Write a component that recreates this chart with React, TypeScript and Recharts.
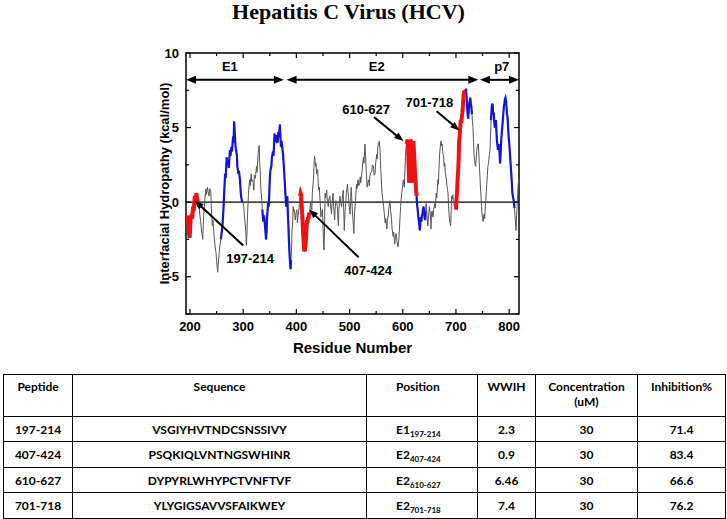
import React from 'react';
import { ComposedChart, Line, XAxis, YAxis, ReferenceLine, ReferenceDot, ReferenceArea } from 'recharts';

// ---------- Hydropathy profile, split by colour segment: [residue, kcal/mol] ----------
const red1: [number, number][] = [
  [193, -1.1], [195, -1.5], [196, -0.9], [197, -1.7], [199, -2.4], [200, -2.0], [201, -1.2], [203, -0.8],
  [204, -1.1], [206, -0.3], [207, -0.6], [209, 0.4], [210, 0.1], [212, 0.6], [213, 0.3], [215, 0.0], [217, -0.3],
];
const gray1: [number, number][] = [
  [217, -0.3], [219, -1.0], [220, -1.3], [222, -2.0], [224, -2.5], [225, -1.5], [226, -0.8], [228, 0.2],
  [230, 0.9], [231, 0.5], [233, 1.0], [234, 0.7], [236, 0.4], [237, 0.9], [239, 0.8], [240, -0.2],
  [242, -1.6], [243, -1.2], [245, -2.1], [247, -2.9], [249, -3.4], [250, -3.9], [252, -4.7], [253, -4.2],
  [255, -3.4], [256, -3.0], [258, -2.5],
];
const blue1: [number, number][] = [
  [258, -2.5], [260, -1.9], [261, -1.6], [263, -0.4], [264, 0.4], [266, 1.9], [267, 1.6], [269, 3.0],
  [270, 2.6], [272, 2.8], [273, 2.3], [275, 3.5], [276, 3.1], [278, 3.7], [279, 3.4], [281, 4.4],
  [282, 4.0], [283, 5.4], [284, 4.8], [285, 4.1], [286, 3.6], [288, 3.2], [289, 2.4], [291, 1.9],
  [292, 2.1], [294, 1.5], [295, 0.9], [296, 0.4], [298, 0.0],
];
const gray2: [number, number][] = [
  [298, 0.0], [299, 0.1], [301, -0.3], [303, -1.2], [305, -2.0], [306, -2.9], [307, -2.2], [308, -1.0],
  [310, 0.6], [312, 1.5], [313, 1.1], [315, 1.9], [316, 1.4], [318, 1.5], [320, 0.8], [321, 1.8],
  [323, 1.6], [325, 2.4], [326, 2.0], [328, 3.2], [330, 3.8], [331, 2.6], [332, 2.1], [333, 1.0],
  [335, 0.1], [336, -0.5],
];
const blue2: [number, number][] = [
  [336, -0.5], [337, -1.0], [338, -1.3], [339, -0.9], [340, -1.1], [341, -1.6], [343, -2.5], [344, -2.0],
  [345, -1.0], [347, 0.0], [348, -0.3], [350, 1.5], [351, 2.1], [353, 2.4], [354, 3.0], [356, 3.4],
  [357, 3.1], [359, 4.6], [360, 4.2], [362, 4.1], [363, 4.5], [365, 4.0], [366, 4.7], [367, 4.3],
  [369, 5.2], [370, 4.4], [371, 3.7], [372, 4.1], [373, 3.8], [375, 3.2], [376, 2.6], [378, 1.5],
  [379, 0.8], [380, 0.1], [381, -0.3], [383, 0.4], [384, -0.8], [385, -1.6], [386, -2.6], [387, -3.4],
  [388, -4.0], [389, -4.5], [390, -3.9],
];
const gray3: [number, number][] = [
  [390, -3.9], [391, -3.0], [392, -1.8], [393, -1.4], [394, -0.3], [395, -0.6], [396, -0.5], [397, -0.9],
  [398, -1.2], [399, -0.8], [401, -0.5], [402, -1.4], [403, -0.9], [404, -0.8], [406, 0.0], [407, 0.4],
];
const red2: [number, number][] = [
  [407, 0.4], [408, 0.6], [409, 0.5], [410, -0.2], [411, -0.8], [412, -1.6], [413, -2.3], [414, -2.9],
  [415, -3.3], [416, -3.2], [417, -2.9], [418, -2.5], [419, -1.8], [420, -1.2], [421, -1.4], [422, -1.0],
  [423, -1.1], [424, -0.7],
];
const gray4: [number, number][] = [
  [424, -0.7], [425, -0.8], [426, -0.2], [427, 0.0], [428, -0.4], [429, -0.5], [430, 0.6], [432, 1.5],
  [433, 2.3], [434, 3.1], [435, 2.8], [436, 2.4], [437, 2.6], [438, 1.9], [439, 2.2], [440, 2.1],
  [441, 1.3], [442, 0.8], [443, 1.0], [444, 0.4], [445, -0.2], [446, -1.0], [447, -0.7], [449, -0.5],
  [450, -1.6], [451, -2.6], [452, -3.2], [453, -1.5], [454, 0.6], [455, 0.3], [457, 0.8], [458, 0.2],
  [460, -0.3], [461, 0.2], [463, 0.4], [464, -0.2], [466, -0.8], [467, -0.1], [469, 0.6], [470, -0.3],
  [472, -1.2], [473, -0.4], [474, 0.1], [476, -0.1], [477, -0.3], [478, -1.0], [479, -1.6], [480, -0.5],
  [482, 0.4], [483, 0.1], [485, -0.3], [486, 0.2], [488, 0.8], [489, -0.6], [490, -1.9], [491, -1.0],
  [493, 0.1], [494, 0.6], [496, 1.2], [497, 0.7], [498, 0.4], [499, -0.2], [501, -0.8], [502, 0.1],
  [503, 1.0], [504, 0.3], [505, -0.4], [506, -1.0], [507, -1.5], [508, -2.1], [509, -1.0], [511, 0.1],
  [512, 0.6], [513, 1.2], [514, 0.9], [516, 1.5], [517, 1.1], [519, 1.2], [520, 1.7], [521, 1.3],
  [523, 1.9], [524, 2.3], [526, 3.0], [527, 2.6], [529, 3.9], [530, 3.1], [531, 2.4], [532, 1.7],
  [533, 1.0], [534, 1.3], [536, 1.5], [537, 1.1], [538, 1.7], [540, 2.0], [542, 2.1], [543, 2.5],
  [545, 2.4], [546, 1.8], [548, 1.9], [549, 2.6], [551, 3.2], [552, 2.9], [553, 3.7], [555, 4.0],
  [556, 4.1], [557, 3.6], [558, 2.8], [559, 1.9], [561, 0.6], [562, 0.3], [564, -0.3], [565, -0.7],
  [567, -1.4], [568, -1.1], [570, -1.8], [571, -1.3], [573, -0.8], [574, -0.4], [576, 0.1], [577, -0.5],
  [579, -1.2], [580, -1.8], [582, -2.3], [583, -2.0], [585, -2.8], [586, -2.3], [588, -2.1], [589, -2.6],
  [591, -3.0], [592, -2.7], [593, -2.3], [595, -0.9], [596, -0.3], [597, 0.2], [598, 0.6], [600, 1.2],
  [601, 1.5], [602, 1.2], [603, 1.0], [604, 2.1], [605, 3.0], [606, 3.6], [607, 3.9],
];
const red3: [number, number][] = [
  [607, 3.9], [608, 4.0], [609, 4.2], [610, 3.6], [611, 2.4], [612, 1.3], [613, 4.1], [614, 4.0],
  [615, 4.2], [616, 3.8], [617, 3.5], [618, 1.3], [619, 2.9], [620, 4.1], [621, 3.4], [622, 2.8],
  [623, 2.0], [624, 1.5], [625, 0.8], [626, 0.4],
];
const blue3: [number, number][] = [
  [626, 0.4], [627, -0.2], [628, -0.5], [629, -0.9], [630, -1.2], [631, -1.5], [632, -1.9], [633, -1.4],
  [634, -1.0], [635, -1.3], [636, -0.9], [637, -0.8], [638, -0.5], [639, -0.3], [640, -0.6], [641, -1.0],
  [642, -1.2], [643, -0.6],
];
const gray5: [number, number][] = [
  [643, -0.6], [644, -0.1], [645, -0.6], [646, -1.2], [647, -1.6], [648, -1.3], [649, -0.7], [650, -0.3],
  [651, -0.5], [652, -1.0], [653, -1.8], [654, -0.8], [655, -0.6], [657, -1.0], [658, -0.5], [660, -0.1],
  [661, -0.4], [663, 0.6], [664, 0.3], [666, 1.5], [667, 1.2], [668, 2.2], [669, 3.1], [670, 3.5],
  [671, 3.9], [672, 4.1], [673, 3.8], [674, 3.9], [675, 3.4], [676, 3.2], [677, 2.9], [678, 2.4],
  [679, 2.6], [680, 2.0], [682, 1.5], [683, 1.1], [684, 0.9], [685, 0.6], [686, -0.2], [687, -0.8],
  [688, -1.2], [689, -1.4], [690, -1.6], [691, -0.5], [692, 0.4], [693, 0.2], [694, 0.5], [695, 0.1],
  [696, -0.1], [697, -0.3], [698, -0.2], [699, -0.4], [700, -0.5],
];
const red4: [number, number][] = [
  [700, -0.5], [701, 0.1], [702, 0.7], [703, 1.5], [704, 2.0], [705, 2.8], [706, 4.1], [707, 4.4],
  [708, 5.0], [709, 5.5], [710, 5.3], [711, 5.7], [712, 6.0], [713, 6.4], [714, 7.0], [715, 7.3], [716, 7.5],
];
const blue4: [number, number][] = [
  [716, 7.5], [717, 7.4], [718, 7.5], [719, 7.6], [720, 7.0], [721, 6.4], [722, 5.9], [723, 5.6],
  [724, 6.1], [725, 6.6], [726, 6.8], [727, 7.0], [728, 6.6], [729, 6.4], [730, 5.9],
];
const gray6: [number, number][] = [
  [730, 5.9], [731, 5.4], [732, 5.0], [733, 4.0], [734, 3.2], [735, 2.8], [736, 2.5], [737, 2.4],
  [738, 2.9], [739, 3.4], [740, 3.7], [741, 3.9], [742, 3.9], [743, 3.3], [744, 2.4], [745, 1.8],
  [746, 1.0], [747, 0.5], [748, -0.3], [749, -0.8], [750, -1.1], [751, -1.3], [752, -1.0], [753, -0.8],
  [754, -1.1], [755, -0.4], [756, 0.0], [757, 0.7], [758, 1.2], [759, 1.8], [760, 2.4], [761, 2.6],
  [762, 2.9], [763, 3.2], [764, 3.5], [765, 4.5], [766, 5.5],
];
const blue5: [number, number][] = [
  [766, 5.5], [767, 6.2], [768, 6.6], [769, 6.5], [770, 5.9], [771, 6.0], [772, 5.4], [773, 5.0],
  [774, 5.3], [775, 5.5], [776, 4.8], [777, 4.1], [778, 3.8], [779, 3.5], [780, 3.7], [781, 3.9],
  [782, 3.2], [783, 2.6], [784, 3.3], [785, 4.1], [786, 4.6], [787, 5.0], [788, 5.5], [789, 5.9],
  [790, 6.4], [791, 6.6], [792, 6.9], [793, 7.0], [794, 6.8], [795, 6.4], [796, 5.9], [797, 5.7],
  [798, 5.0], [799, 4.4], [800, 4.0], [801, 3.5], [802, 3.0], [803, 2.4], [804, 1.9], [805, 1.3],
  [806, 0.6], [807, 0.4], [808, 0.2], [809, 0.0], [810, -0.4],
];
const gray7: [number, number][] = [
  [810, -0.4], [811, -0.9], [812, -1.5], [813, -1.9], [814, -0.9], [815, -0.3], [816, 0.6], [817, 1.2], [818, 1.5],
];

const segments: { pts: [number, number][]; kind: 'gray' | 'blue' | 'red' }[] = [
  { pts: red1, kind: 'red' }, { pts: gray1, kind: 'gray' }, { pts: blue1, kind: 'blue' },
  { pts: gray2, kind: 'gray' }, { pts: blue2, kind: 'blue' }, { pts: gray3, kind: 'gray' },
  { pts: red2, kind: 'red' }, { pts: gray4, kind: 'gray' }, { pts: red3, kind: 'red' },
  { pts: blue3, kind: 'blue' }, { pts: gray5, kind: 'gray' }, { pts: red4, kind: 'red' },
  { pts: blue4, kind: 'blue' }, { pts: gray6, kind: 'gray' }, { pts: blue5, kind: 'blue' },
  { pts: gray7, kind: 'gray' },
];

// ---------- Axes ----------
const xDomain = [192.5, 818.5];
const yDomain = [-7.5, 10];
const xTicks = [200, 250, 300, 350, 400, 450, 500, 550, 600, 650, 700, 750, 800];
const yTicks = [-7.5, -5, -2.5, 0, 2.5, 5, 7.5, 10];

// ---------- Annotations ----------
const regionNames = ['E1', 'E2', 'p7'];
const regionStart = [192.5, 381.5, 745];
const regionEnd = [376.5, 742, 818.5];
const regionLabelX = [275, 551, 786];
const regionArrowY = 8.2;
const regionLabelY = 9.1;

const calloutNames = ['197-214', '407-424', '610-627', '701-718'];
const calloutTail: [number, number][] = [[300, -2.9], [517, -3.7], [546, 5.7], [663.7, 6.1]];
const calloutHead: [number, number][] = [[209, 0.1], [424, -0.5], [601, 4.1], [706.3, 4.8]];
const calloutText: [number, number][] = [[313, -3.8], [535, -4.6], [531, 6.2], [650, 6.7]];

// ---------- Table ----------
const peptideIds = ['197-214', '407-424', '610-627', '701-718'];
const sequences = ['VSGIYHVTNDCSNSSIVY', 'PSQKIQLVNTNGSWHINR', 'DYPYRLWHYPCTVNFTVF', 'YLYGIGSAVVSFAIKWEY'];
const domains = ['E1', 'E2', 'E2', 'E2'];
const wwih = ['2.3', '0.9', '6.46', '7.4'];
const concentrations = ['30', '30', '30', '30'];
const inhibitions = ['71.4', '83.4', '66.6', '76.2'];

// build chart rows
const rowMap = new Map<number, any>();
segments.forEach((s) => {
  s.pts.forEach(([r, v]) => {
    const row = rowMap.get(r) || { r, gray: v, blue: null, red: null };
    row.gray = v;
    if (s.kind !== 'gray') row[s.kind] = v;
    rowMap.set(r, row);
  });
});
const data = Array.from(rowMap.values()).sort((a, b) => a.r - b.r);

const FONT = '"Liberation Sans", Arial, sans-serif';

// layout of the plotting box
const M = { top: 53, right: 208, bottom: 160, left: 146 };
const X_AXIS_H = 45;
const Y_AXIS_W = 40;
const PLOT_W = 727 - M.left - M.right - Y_AXIS_W;
const PLOT_H = 519 - M.top - M.bottom - X_AXIS_H;

const BottomTick = (p: any) => {
  const major = p.payload.value % 100 === 0;
  const len = major ? 5 : 3;
  return (
    <g>
      <line x1={p.x} x2={p.x} y1={p.y} y2={p.y - len} stroke="#000" strokeWidth={1.2} />
      <line x1={p.x} x2={p.x} y1={p.y - PLOT_H} y2={p.y - PLOT_H + len} stroke="#000" strokeWidth={1.2} />
      {major && (
        <text x={p.x} y={p.y + 17} textAnchor="middle" fontSize={13} fontWeight="bold" fontFamily={FONT} fill="#000">
          {p.payload.value}
        </text>
      )}
    </g>
  );
};
const LeftTick = (p: any) => {
  const major = p.payload.value % 5 === 0;
  const len = major ? 5 : 3;
  return (
    <g>
      <line x1={p.x} x2={p.x + len} y1={p.y} y2={p.y} stroke="#000" strokeWidth={1.2} />
      <line x1={p.x + PLOT_W} x2={p.x + PLOT_W - len} y1={p.y} y2={p.y} stroke="#000" strokeWidth={1.2} />
      {major && (
        <text x={p.x - 7} y={p.y + 4.5} textAnchor="end" fontSize={13} fontWeight="bold" fontFamily={FONT} fill="#000">
          {p.payload.value}
        </text>
      )}
    </g>
  );
};

const DoubleArrow = (p: any) => {
  const { x1, y1, x2, y2 } = p;
  const hl = 10, hw = 4;
  return (
    <g>
      <line x1={x1 + hl - 1} y1={y1} x2={x2 - hl + 1} y2={y2} stroke="#000" strokeWidth={2} />
      <polygon points={`${x1},${y1} ${x1 + hl},${y1 - hw} ${x1 + hl},${y1 + hw}`} fill="#000" />
      <polygon points={`${x2},${y2} ${x2 - hl},${y2 - hw} ${x2 - hl},${y2 + hw}`} fill="#000" />
    </g>
  );
};

const SingleArrow = (p: any) => {
  const { x1, y1, x2, y2 } = p;
  const dx = x2 - x1, dy = y2 - y1;
  const len = Math.sqrt(dx * dx + dy * dy);
  const ux = dx / len, uy = dy / len;
  const hl = 9, hw = 3.5;
  const bx = x2 - ux * hl, by = y2 - uy * hl;
  return (
    <g>
      <line x1={x1} y1={y1} x2={bx + ux} y2={by + uy} stroke="#000" strokeWidth={2} />
      <polygon
        points={`${x2},${y2} ${bx - uy * hw},${by + ux * hw} ${bx + uy * hw},${by - ux * hw}`}
        fill="#000"
      />
    </g>
  );
};

const textShape = (label: string) => (p: any) => (
  <text x={p.cx} y={p.cy} dy="0.35em" textAnchor="middle" fontSize={13} fontWeight="bold" fontFamily={FONT} fill="#000">
    {label}
  </text>
);

const cell: React.CSSProperties = {
  border: '1px solid #000',
  textAlign: 'center',
  verticalAlign: 'middle',
  padding: 0,
};
const headCell: React.CSSProperties = { ...cell, verticalAlign: 'top', paddingTop: 4, lineHeight: '15px' };
const colWidths = [69, 294, 111, 58, 102, 88];
const rowHeights = [25, 26, 25, 26];

export default function App() {
  return (
    <div style={{ position: 'absolute', left: 0, top: 0, width: 727, height: 519, background: '#fff', overflow: 'hidden' }}>
      <div
        style={{
          position: 'absolute', left: 0, top: 0, width: 697, textAlign: 'center',
          fontFamily: '"Liberation Serif", "Times New Roman", serif', fontWeight: 'bold', fontSize: 22, lineHeight: '24px',
        }}
      >
        Hepatitis C Virus (HCV)
      </div>
      <div style={{ position: 'absolute', left: 0, top: 0 }}>
        <ComposedChart width={727} height={519} data={data} margin={M}>
          <XAxis
            dataKey="r" type="number" domain={xDomain} ticks={xTicks} interval={0}
            allowDataOverflow height={X_AXIS_H} tickSize={0} tickMargin={0} tick={BottomTick}
            axisLine={false} tickLine={false}
            label={{ value: 'Residue Number', position: 'insideBottom', offset: 6, fontSize: 15, fontWeight: 'bold', fontFamily: FONT, fill: '#000' }}
          />
          <YAxis
            type="number" domain={yDomain} ticks={yTicks} interval={0} allowDataOverflow
            width={Y_AXIS_W} tickSize={0} tickMargin={0} tick={LeftTick}
            axisLine={false} tickLine={false}
            label={{ value: 'Interfacial Hydropathy (kcal/mol)', angle: -90, position: 'center', dx: -2, fontSize: 13, fontWeight: 'bold', fontFamily: FONT, fill: '#000' }}
          />
          <ReferenceArea
            x1={xDomain[0]} x2={xDomain[1]} y1={yDomain[0]} y2={yDomain[1]}
            fill="none" fillOpacity={0} stroke="#000" strokeWidth={1.5} ifOverflow="visible"
          />
          <ReferenceLine y={0} stroke="#000" strokeWidth={1.2} ifOverflow="visible" />
          <Line dataKey="gray" stroke="#555" strokeWidth={1} dot={false} isAnimationActive={false} connectNulls={false} />
          <Line dataKey="blue" stroke="#1414d8" strokeWidth={2.2} dot={false} isAnimationActive={false} connectNulls={false} />
          <Line dataKey="red" stroke="#f01212" strokeWidth={4} dot={false} isAnimationActive={false} connectNulls={false} />
          {regionNames.map((n, i) => (
            <ReferenceLine
              key={'ra' + n}
              segment={[{ x: regionStart[i], y: regionArrowY }, { x: regionEnd[i], y: regionArrowY }]}
              ifOverflow="visible"
              shape={DoubleArrow}
            />
          ))}
          {regionNames.map((n, i) => (
            <ReferenceDot key={'rl' + n} x={regionLabelX[i]} y={regionLabelY} r={0} ifOverflow="visible" shape={textShape(n)} />
          ))}
          {calloutNames.map((n, i) => (
            <ReferenceLine
              key={'ca' + n}
              segment={[{ x: calloutTail[i][0], y: calloutTail[i][1] }, { x: calloutHead[i][0], y: calloutHead[i][1] }]}
              ifOverflow="visible"
              shape={SingleArrow}
            />
          ))}
          {calloutNames.map((n, i) => (
            <ReferenceDot key={'cl' + n} x={calloutText[i][0]} y={calloutText[i][1]} r={0} ifOverflow="visible" shape={textShape(n)} />
          ))}
        </ComposedChart>
      </div>
      <table
        style={{
          position: 'absolute', left: 3, top: 374, borderCollapse: 'collapse', tableLayout: 'fixed',
          width: 722, fontFamily: 'Lato, "Open Sans", sans-serif', fontWeight: 'bold', fontSize: 12, color: '#000',
          border: '1.5px solid #000',
        }}
      >
        <colgroup>
          {colWidths.map((w, i) => (
            <col key={i} style={{ width: w }} />
          ))}
        </colgroup>
        <tbody>
          <tr style={{ height: 42 }}>
            <td style={headCell}>Peptide</td>
            <td style={headCell}>Sequence</td>
            <td style={{ ...headCell, textAlign: 'left', paddingLeft: 29 }}>Position</td>
            <td style={headCell}>WWIH</td>
            <td style={headCell}>
              Concentration
              <br />
              (uM)
            </td>
            <td style={headCell}>Inhibition%</td>
          </tr>
          {peptideIds.map((id, i) => (
            <tr key={id} style={{ height: rowHeights[i] }}>
              <td style={cell}>{id}</td>
              <td style={cell}>{sequences[i]}</td>
              <td style={{ ...cell, textAlign: 'left', paddingLeft: 29 }}>
                {domains[i]}
                <span style={{ fontSize: 8, position: 'relative', top: 3 }}>{id}</span>
              </td>
              <td style={cell}>{wwih[i]}</td>
              <td style={cell}>{concentrations[i]}</td>
              <td style={cell}>{inhibitions[i]}</td>
            </tr>
          ))}
        </tbody>
      </table>
    </div>
  );
}
